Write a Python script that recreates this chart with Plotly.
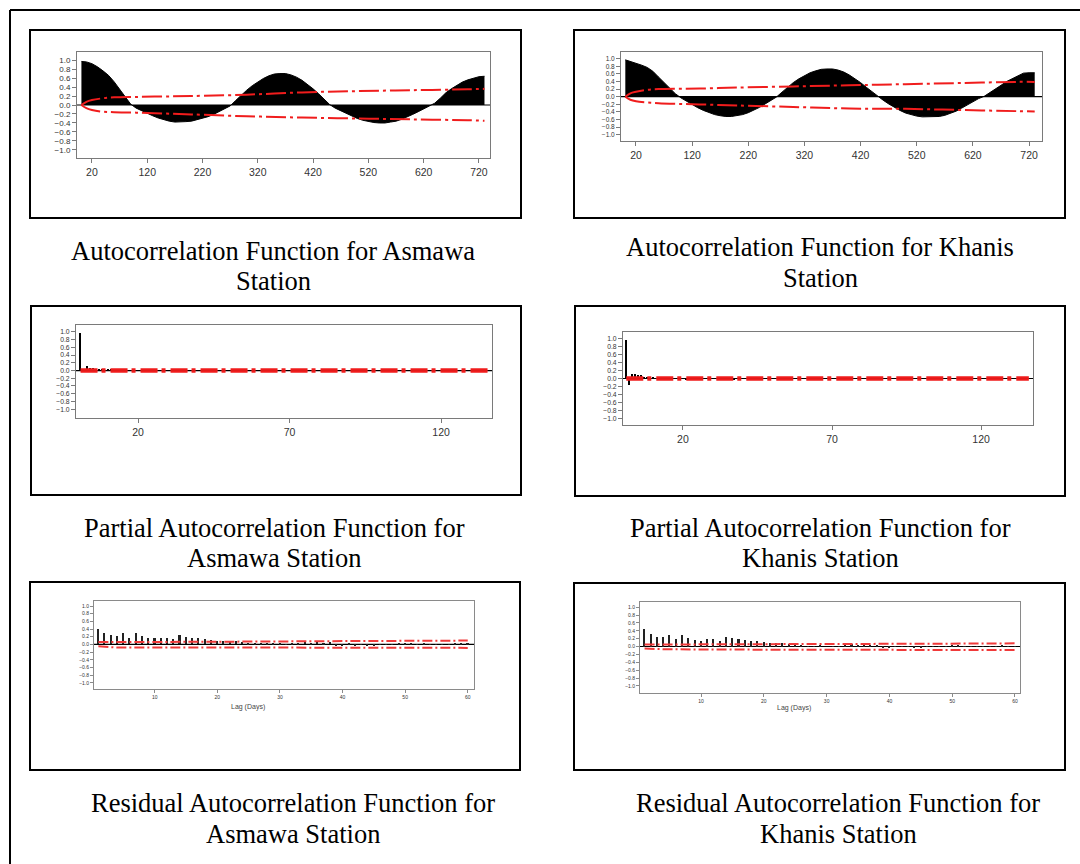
import plotly.graph_objects as go

W, H = 1080, 864

# ---------------- data ----------------
acf_lags = [1] + list(range(10, 731, 10))
acf_asmawa = [0.97,
    0.96, 0.92, 0.85, 0.76, 0.66, 0.52, 0.36, 0.19, 0.02,
    -0.07, -0.13, -0.19, -0.24, -0.29, -0.33, -0.36, -0.38, -0.38, -0.37,
    -0.36, -0.33, -0.30, -0.26, -0.21, -0.15, -0.09, -0.02,
    0.10, 0.22, 0.33, 0.43, 0.52, 0.59, 0.65, 0.69, 0.70, 0.70,
    0.67, 0.62, 0.55, 0.46, 0.36, 0.25, 0.13, 0.01,
    -0.07, -0.13, -0.19, -0.25, -0.30, -0.34, -0.37, -0.39, -0.40, -0.40,
    -0.38, -0.36, -0.32, -0.27, -0.21, -0.15, -0.09, -0.03,
    0.04, 0.15, 0.27, 0.36, 0.44, 0.51, 0.56, 0.60, 0.63, 0.64]
acf_khanis = [0.97,
    0.93, 0.88, 0.83, 0.77, 0.67, 0.52, 0.37, 0.22, 0.08,
    -0.03, -0.12, -0.21, -0.29, -0.36, -0.42, -0.47, -0.50, -0.52, -0.52,
    -0.50, -0.47, -0.42, -0.36, -0.28, -0.19, -0.10, -0.01,
    0.12, 0.25, 0.37, 0.47, 0.56, 0.63, 0.68, 0.72, 0.73, 0.73,
    0.70, 0.65, 0.57, 0.48, 0.37, 0.25, 0.13, 0.02,
    -0.09, -0.19, -0.28, -0.36, -0.43, -0.48, -0.51, -0.53, -0.53, -0.53,
    -0.52, -0.49, -0.44, -0.38, -0.30, -0.21, -0.13, -0.05,
    0.01, 0.10, 0.20, 0.30, 0.40, 0.48, 0.56, 0.62, 0.63, 0.63]

acf_band_lags = [1, 10, 20, 40, 60, 100, 150, 200, 300, 400, 500, 600, 700, 730]
acf_asmawa_upper = [0.0, 0.07, 0.11, 0.15, 0.17, 0.18, 0.19, 0.20, 0.23, 0.28, 0.31, 0.33, 0.35, 0.36]
acf_asmawa_lower = [0.0, -0.07, -0.11, -0.15, -0.16, -0.17, -0.19, -0.21, -0.25, -0.28, -0.30, -0.32, -0.34, -0.35]
acf_khanis_upper = [0.0, 0.09, 0.13, 0.18, 0.20, 0.21, 0.22, 0.24, 0.27, 0.30, 0.33, 0.36, 0.39, 0.39]
acf_khanis_lower = [0.0, -0.08, -0.12, -0.15, -0.17, -0.19, -0.21, -0.23, -0.27, -0.31, -0.32, -0.35, -0.38, -0.39]

pacf_lags = list(range(1, 137))
pacf_asmawa = [
    0.98, 0.02, 0.11, 0.07, 0.06, 0.05, 0.04, 0.02, 0.01, 0.04,
    0.02, 0.01, -0.01, 0.01, 0.02, 0.01, 0.00, 0.01, -0.01, 0.01,
    0.01, 0.00, -0.01, 0.01, 0.00, 0.01, 0.00, -0.01, 0.01, 0.00,
    0.01, -0.01, 0.00, 0.01, 0.00, -0.01, 0.01, 0.00, 0.00, 0.01,
    -0.01, 0.00, 0.01, 0.00, -0.01, 0.00, 0.01, 0.00, 0.01, -0.01,
    0.00, 0.01, 0.00, -0.01, 0.00, 0.01, 0.00, 0.00, -0.01, 0.01,
    0.00, 0.01, -0.01, 0.00, 0.00, 0.01, 0.00, -0.01, 0.01, 0.00,
    0.00, 0.01, 0.00, -0.01, 0.00, 0.01, 0.00, 0.00, 0.01, -0.01,
    0.00, 0.00, 0.01, 0.00, -0.01, 0.00, 0.01, 0.00, 0.00, -0.01,
    0.01, 0.00, 0.00, 0.01, 0.00, -0.01, 0.00, 0.01, 0.00, 0.00,
    0.01, -0.01, 0.00, 0.00, 0.01, 0.00, -0.01, 0.00, 0.01, 0.00,
    0.00, 0.01, 0.00, -0.01, 0.00, 0.00, 0.01, 0.00, -0.01, 0.00,
    0.01, 0.00, 0.00, -0.01, 0.01, 0.00, 0.00, 0.01, 0.00, -0.01,
    0.00, 0.01, 0.00, 0.00, -0.01, 0.00]
pacf_khanis = [
    0.98, -0.17, 0.12, 0.11, 0.09, 0.08, 0.03, 0.02, 0.01, 0.02,
    -0.01, 0.01, 0.00, 0.01, -0.01, 0.00, 0.01, 0.00, -0.02, 0.01,
    -0.03, 0.01, 0.00, -0.01, 0.01, 0.00, 0.01, -0.01, 0.00, 0.01,
    0.00, -0.01, 0.01, 0.00, -0.01, 0.01, -0.03, 0.00, 0.01, 0.00,
    -0.01, 0.00, 0.01, 0.00, -0.01, 0.01, 0.00, 0.00, 0.01, -0.01,
    0.00, 0.01, 0.00, -0.02, 0.00, 0.01, 0.00, 0.00, -0.01, 0.01,
    0.00, 0.01, -0.01, 0.00, 0.00, 0.01, 0.00, -0.01, 0.01, 0.00,
    0.00, 0.01, 0.00, -0.01, 0.00, 0.01, 0.00, 0.00, 0.01, -0.01,
    0.00, 0.00, 0.01, 0.00, -0.01, 0.00, 0.01, 0.00, 0.00, -0.01,
    0.01, 0.00, 0.00, 0.01, 0.00, -0.01, 0.00, 0.01, 0.00, 0.00,
    0.01, -0.01, 0.00, 0.00, 0.01, 0.00, -0.01, 0.00, 0.01, 0.00,
    0.00, 0.01, 0.00, -0.01, 0.00, 0.00, 0.01, 0.00, -0.01, 0.00,
    0.01, 0.00, 0.00, -0.01, 0.01, 0.00, 0.00, 0.01, 0.00, -0.01,
    0.00, 0.01, 0.00, 0.00, -0.01, 0.00]
pacf_band_lags = [1, 136]
pacf_upper = [0.026, 0.026]
pacf_lower = [-0.026, -0.026]

res_lags = list(range(1, 61))
res_asmawa = [
    0.40, 0.29, 0.24, 0.23, 0.29, 0.18, 0.30, 0.22, 0.17, 0.16,
    0.17, 0.18, 0.15, 0.24, 0.20, 0.17, 0.16, 0.14, 0.12, 0.10,
    0.10, 0.08, 0.08, 0.07, 0.05, 0.03, 0.02, 0.03, 0.02, 0.02,
    0.01, 0.02, 0.05, 0.07, 0.05, 0.06, 0.05, 0.06, -0.03, -0.03,
    0.02, -0.02, 0.01, -0.03, -0.03, 0.01, 0.01, -0.01, 0.02, 0.02,
    0.04, 0.01, 0.02, -0.01, 0.01, -0.01, 0.01, 0.02, 0.02, 0.02]
res_khanis = [
    0.44, 0.31, 0.25, 0.24, 0.28, 0.19, 0.30, 0.22, 0.17, 0.15,
    0.18, 0.19, 0.14, 0.25, 0.21, 0.19, 0.17, 0.15, 0.14, 0.11,
    0.10, 0.09, 0.08, 0.07, 0.02, 0.02, 0.01, 0.01, 0.02, 0.00,
    0.01, 0.01, 0.05, 0.06, 0.04, 0.05, 0.04, 0.05, -0.03, -0.02,
    0.01, -0.01, 0.01, -0.03, -0.02, 0.01, 0.01, -0.01, 0.01, 0.05,
    0.02, 0.01, 0.01, -0.01, 0.01, 0.01, 0.01, 0.02, 0.01, -0.01]
res_band_lags = [1, 4, 20, 45, 60]
res_asmawa_upper = [0.06, 0.06, 0.07, 0.09, 0.10]
res_asmawa_lower = [-0.05, -0.08, -0.08, -0.09, -0.09]
res_khanis_upper = [0.05, 0.05, 0.06, 0.07, 0.08]
res_khanis_lower = [-0.05, -0.07, -0.08, -0.08, -0.09]

y_ticks = [1.0, 0.8, 0.6, 0.4, 0.2, 0.0, -0.2, -0.4, -0.6, -0.8, -1.0]
acf_xticks = [20, 120, 220, 320, 420, 520, 620, 720]
pacf_xticks = [20, 70, 120]
res_xticks = [10, 20, 30, 40, 50, 60]

captions = [
    ("Autocorrelation Function for Asmawa", "Station"),
    ("Autocorrelation Function for Khanis", "Station"),
    ("Partial Autocorrelation Function for", "Asmawa Station"),
    ("Partial Autocorrelation Function for", "Khanis Station"),
    ("Residual Autocorrelation Function for", "Asmawa Station"),
    ("Residual Autocorrelation Function for", "Khanis Station"),
]

# ---------------- layout helpers (pixels -> paper) ----------------
def px(x):
    return x / W

def py(y):
    return 1 - y / H

RED = "#f01c1c"
fig = go.Figure()

# panel geometry: plot box (x0, x1, y0, y1) in px, x range, y range, tick font sizes
panels = [
    dict(box=(77, 490, 52, 158), xr=[-7, 740], yr=[-1.18, 1.18], xt=acf_xticks, fs=8, xfs=10.5, tl=4, gray="#7a7a7a"),
    dict(box=(621, 1042, 52, 141), xr=[-6.7, 743], yr=[-1.165, 1.176], xt=acf_xticks, fs=6.5, xfs=10.5, tl=4, gray="#7a7a7a"),
    dict(box=(76, 492, 325, 418), xr=[-0.5, 136.8], yr=[-1.23, 1.18], xt=pacf_xticks, fs=6.8, xfs=10.5, tl=4, gray="#7a7a7a"),
    dict(box=(623, 1033, 332, 425), xr=[-0.1, 137.4], yr=[-1.17, 1.17], xt=pacf_xticks, fs=6.8, xfs=10.5, tl=4, gray="#7a7a7a"),
    dict(box=(94, 474, 601, 689), xr=[0.3, 61], yr=[-1.16, 1.13], xt=res_xticks, fs=5, xfs=5, tl=3, gray="#8a8a8a"),
    dict(box=(640, 1020, 602, 693), xr=[0.27, 60.8], yr=[-1.18, 1.13], xt=res_xticks, fs=5, xfs=5, tl=3, gray="#8a8a8a"),
]

def axref(i):
    return ("x" + (str(i) if i > 1 else ""), "y" + (str(i) if i > 1 else ""))

# 1,2: ACF filled areas with confidence bands
for i, (vals, up, lo) in enumerate([(acf_asmawa, acf_asmawa_upper, acf_asmawa_lower),
                                     (acf_khanis, acf_khanis_upper, acf_khanis_lower)], start=1):
    xa, ya = axref(i)
    fig.add_trace(go.Scatter(x=acf_lags, y=vals, mode="lines", fill="tozeroy",
                             fillcolor="black", line=dict(color="black", width=1),
                             xaxis=xa, yaxis=ya, showlegend=False))
    for band in (up, lo):
        fig.add_trace(go.Scatter(x=acf_band_lags, y=band, mode="lines",
                                 line=dict(color=RED, width=2, dash="20px,4px,3px,4px", shape="spline"),
                                 xaxis=xa, yaxis=ya, showlegend=False))

# 3,4: PACF bars
for i, vals in [(3, pacf_asmawa), (4, pacf_khanis)]:
    xa, ya = axref(i)
    fig.add_trace(go.Bar(x=pacf_lags, y=vals, width=0.4, marker=dict(color="black", line=dict(width=0)),
                         xaxis=xa, yaxis=ya, showlegend=False))
    for band in (pacf_upper, pacf_lower):
        fig.add_trace(go.Scatter(x=pacf_band_lags, y=band, mode="lines",
                                 line=dict(color=RED, width=2.5, dash="17px,4px,4px,5px"),
                                 xaxis=xa, yaxis=ya, showlegend=False))

# 5,6: residual ACF bars
for i, (vals, up, lo) in [(5, (res_asmawa, res_asmawa_upper, res_asmawa_lower)),
                          (6, (res_khanis, res_khanis_upper, res_khanis_lower))]:
    xa, ya = axref(i)
    fig.add_trace(go.Bar(x=res_lags, y=vals, width=0.25, marker=dict(color="#222", line=dict(width=0)),
                         xaxis=xa, yaxis=ya, showlegend=False))
    for band in (up, lo):
        fig.add_trace(go.Scatter(x=res_band_lags, y=band, mode="lines",
                                 line=dict(color="#f03a3a", width=2, dash="10px,3px,2px,3px"),
                                 xaxis=xa, yaxis=ya, showlegend=False))

layout = dict(width=W, height=H, margin=dict(l=0, r=0, t=0, b=0),
              paper_bgcolor="white", plot_bgcolor="white", showlegend=False,
              bargap=0, shapes=[], annotations=[])

for i, p in enumerate(panels, start=1):
    x0, x1, y0, y1 = p["box"]
    sfx = str(i) if i > 1 else ""
    xa, ya = axref(i)
    layout["xaxis" + sfx] = dict(
        domain=[px(x0), px(x1)], range=p["xr"], anchor=ya,
        tickvals=p["xt"], ticks="outside", ticklen=p["tl"], tickcolor=p["gray"],
        showline=True, linecolor=p["gray"], linewidth=1, mirror=True,
        showgrid=False, zeroline=False,
        tickfont=dict(family="Liberation Sans, Arial", size=p["xfs"], color="#333"))
    layout["yaxis" + sfx] = dict(
        domain=[py(y1), py(y0)], range=p["yr"], anchor=xa,
        tickvals=y_ticks, tickformat=".1f", ticks="outside", ticklen=p["tl"], tickcolor=p["gray"],
        showline=True, linecolor=p["gray"], linewidth=1, mirror=True,
        showgrid=False, zeroline=False,
        tickfont=dict(family="Liberation Sans, Arial", size=p["fs"], color="#333"))
    # zero line across the plot box
    layout["shapes"].append(dict(type="line", xref=xa + " domain", yref=ya, x0=0, x1=1, y0=0, y1=0,
                                 line=dict(color="black", width=1.2), layer="below"))

# Lag (Days) axis labels for residual panels
for (xc, yc) in [(248, 707), (794, 708)]:
    layout["annotations"].append(dict(text="Lag (Days)", xref="paper", yref="paper",
                                      x=px(xc), y=py(yc), showarrow=False,
                                      xanchor="center", yanchor="middle",
                                      font=dict(family="Liberation Sans, Arial", size=7, color="#444")))

# panel frames
frames = [(30, 30, 521, 218), (574, 30, 1065, 218), (31, 306, 521, 495),
          (575, 306, 1065, 496), (30, 582, 520, 770), (574, 583, 1065, 770)]
for (a, b, c, d) in frames:
    layout["shapes"].append(dict(type="rect", xref="paper", yref="paper",
                                 x0=px(a), x1=px(c), y0=py(b), y1=py(d),
                                 line=dict(color="black", width=2)))

# outer border (left and top)
layout["shapes"].append(dict(type="line", xref="paper", yref="paper", x0=px(10), x1=px(10),
                             y0=py(10), y1=py(864), line=dict(color="black", width=2)))
layout["shapes"].append(dict(type="line", xref="paper", yref="paper", x0=px(10), x1=px(1080),
                             y0=py(10), y1=py(10), line=dict(color="black", width=2)))

# captions
cap_pos = [((273, 251), (273, 281)), ((820, 247), (820, 278)),
           ((274, 528), (274, 558)), ((820, 528), (820, 558)),
           ((293, 803), (293, 834)), ((838, 803), (838, 834))]
for (l1, l2), ((xa1, ya1), (xa2, ya2)) in zip(captions, cap_pos):
    for txt, xc, yc in [(l1, xa1, ya1), (l2, xa2, ya2)]:
        layout["annotations"].append(dict(text=txt, xref="paper", yref="paper",
                                          x=px(xc), y=py(yc), showarrow=False,
                                          xanchor="center", yanchor="middle",
                                          font=dict(family="Liberation Serif, Times New Roman", size=26.5, color="black")))

fig.update_layout(**layout)
fig.write_html("out.html")
